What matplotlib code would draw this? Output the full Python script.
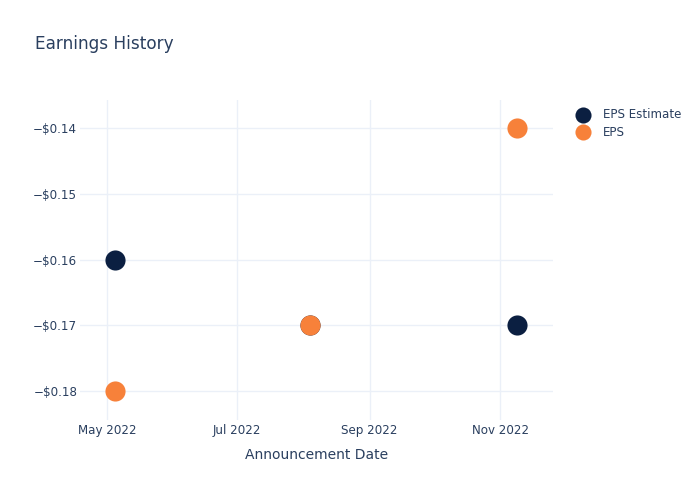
import matplotlib
matplotlib.use("Agg")
import matplotlib.pyplot as plt
from matplotlib.ticker import FuncFormatter
import datetime as dt

dates = [dt.datetime(2022, 5, 5), dt.datetime(2022, 8, 4), dt.datetime(2022, 11, 9)]
eps_estimate = [-0.16, -0.17, -0.17]
eps_actual = [-0.18, -0.17, -0.14]
series_names = ["EPS Estimate", "EPS"]
yticks = [-0.18, -0.17, -0.16, -0.15, -0.14]
xtick_dates = [dt.datetime(2022, 5, 1), dt.datetime(2022, 7, 1), dt.datetime(2022, 9, 1), dt.datetime(2022, 11, 1)]
xtick_labels = ["May 2022", "Jul 2022", "Sep 2022", "Nov 2022"]

text_color = "#2a3f5f"
grid_color = "#ebf0f8"
navy = "#0b1f41"
orange = "#f7813a"

fig = plt.figure(figsize=(7, 5), dpi=100)
ax = fig.add_axes([80/700, 1-420/500, (553-80)/700, 320/500])

ax.scatter(dates, eps_estimate, s=210, color=navy, zorder=3, label=series_names[0], linewidths=0)
ax.scatter(dates, eps_actual, s=210, color=orange, zorder=4, label=series_names[1], linewidths=0)

ax.set_xlim(dt.datetime(2022, 4, 18, 10), dt.datetime(2022, 11, 25, 18))
ax.set_ylim(-0.18441, -0.13574)

ax.set_yticks(yticks)
ax.yaxis.set_major_formatter(FuncFormatter(lambda v, p: ("\u2212" if v < 0 else "") + "$%.2f" % abs(v)))
ax.set_xticks(xtick_dates)
ax.set_xticklabels(xtick_labels)

ax.grid(True, color=grid_color, linewidth=1)
ax.set_axisbelow(True)
for s in ax.spines.values():
    s.set_visible(False)
ax.tick_params(axis="both", length=0, labelsize=8.6, colors=text_color)
ax.tick_params(axis="x", pad=3)
ax.tick_params(axis="y", pad=2)

ax.set_xlabel("Announcement Date", fontsize=10, color=text_color, labelpad=8)

fig.text(35/700, 1-44/500, "Earnings History", fontsize=12.2, color=text_color, va="center", ha="left")

leg = ax.legend(loc="upper left", bbox_to_anchor=(1.02, 1.0), frameon=False, fontsize=8.6,
                labelcolor=text_color, handletextpad=0.7, borderaxespad=0.3, labelspacing=0.35,
                markerscale=0.8)

fig.savefig("out.png", dpi=100)
